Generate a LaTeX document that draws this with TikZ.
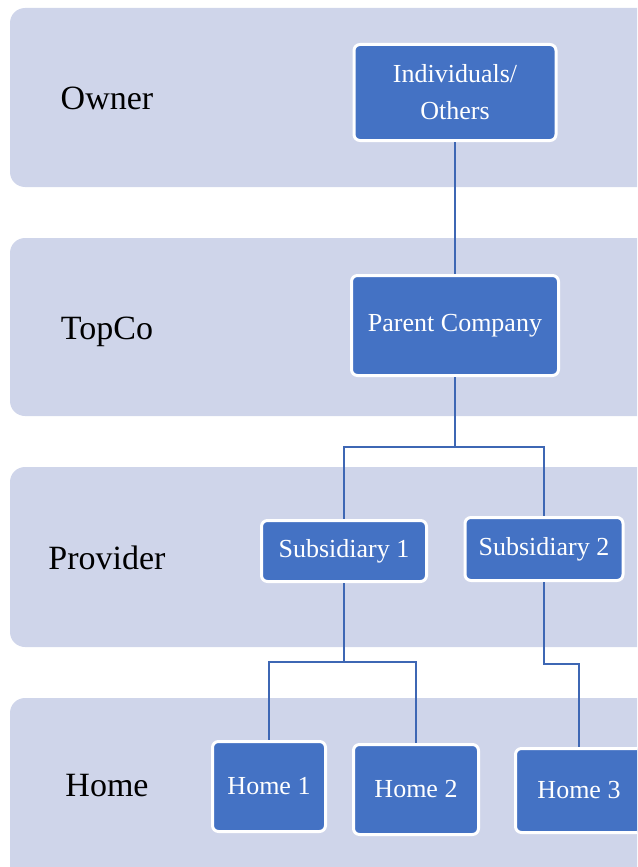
\documentclass[tikz,border=0pt]{standalone}
\usepackage{fontspec}
\setmainfont{Liberation Serif}

\definecolor{bandgray}{RGB}{207,213,234}
\definecolor{boxblue}{RGB}{68,114,196}
\definecolor{linkblue}{RGB}{62,103,180}

\begin{document}
\begin{tikzpicture}[x=1pt, y=-1pt]
    \tikzset{band/.style={fill=bandgray, rounded corners=15pt},
             unit/.style={fill=boxblue, draw=white, line width=3pt, rounded corners=6pt,
                          text=white, align=center, inner sep=0pt,
                          font=\fontsize{26}{37}\selectfont},
             tier/.style={anchor=base, font=\fontsize{34}{40}\selectfont},
             link/.style={draw=linkblue, line width=2pt}}
    \useasboundingbox (0,0) rectangle (637,867);
    \clip (0,0) rectangle (637,867);

    % horizontal bands
    \foreach \top/\bot in {8/187, 238/416, 467/647, 698/890} {
            \fill[band] (10,\top) rectangle (680,\bot);
        }

    \node[tier] (owner)    at (107,109) {Owner};
    \node[tier] (topco)    at (107,339) {TopCo};
    \node[tier] (provider) at (107,569) {Provider};
    \node[tier] (home)     at (107,796) {Home};

    \node[unit, minimum width=202pt, minimum height=96pt]  (ind)    at (455,92.5)  {Individuals/\\Others};
    \node[unit, minimum width=207pt, minimum height=100pt] (parent) at (455,325.5) {Parent Company};
    \node[unit, minimum width=165pt, minimum height=61pt]  (sub1)   at (344,551)   {Subsidiary 1};
    \node[unit, minimum width=158pt, minimum height=63pt]  (sub2)   at (544,549)   {Subsidiary 2};
    \node[unit, minimum width=113pt, minimum height=90pt]  (home1)  at (269,786.5) {Home 1};
    \node[unit, minimum width=125pt, minimum height=90pt]  (home2)  at (416,789.5) {Home 2};
    \node[unit, minimum width=127pt, minimum height=84pt]  (home3)  at (579,790.5) {Home 3};

    \coordinate (j1) at (455,447);
    \coordinate (j2) at (344,662);
    \coordinate (j3) at (544,664);

    \draw[link] (ind.south) -- (parent.north);
    \draw[link] (parent.south) -- (j1) -| (sub1.north);
    \draw[link] (j1) -| (sub2.north);
    \draw[link] (sub1.south) -- (j2) -| (home1.north);
    \draw[link] (j2) -| (home2.north);
    \draw[link] (sub2.south) -- (j3) -| (home3.north);
\end{tikzpicture}
\end{document}
